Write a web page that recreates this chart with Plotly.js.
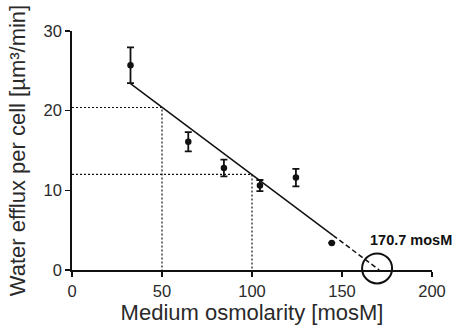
<!DOCTYPE html>
<html>
<head>
<meta charset="utf-8">
<script src="https://cdn.plot.ly/plotly-3.0.1.min.js"></script>
<style>html,body{margin:0;padding:0;background:#fff;}#chart{width:469px;height:328px;}</style>
</head>
<body>
<div id="chart"></div>
<script>
// Measured data
const osmolarity = [32.5, 64.6, 84.4, 104.4, 124.4, 144.3];
const efflux = [25.7, 16.1, 12.8, 10.6, 11.6, 3.4];
const effluxErr = [2.25, 1.2, 1.05, 0.7, 1.1, 0];

// Fitted line
const fitSolidX = [32.5, 145];
const fitSolidY = [23.4, 4.35];
const fitDashX = [145, 170.7];
const fitDashY = [4.35, 0];

// Guide lines
const guide1X = [0, 50, 50];
const guide1Y = [20.4, 20.4, 0];
const guide2X = [0, 100, 100];
const guide2Y = [12.0, 12.0, 0];

const interceptX = [169.5];
const interceptY = [0.2];
const interceptLabel = '170.7 mosM';

const ink = '#111';
const traces = [
  {x: guide1X, y: guide1Y, mode: 'lines', line: {color: ink, width: 1.2, dash: '2px,2px'}, hoverinfo: 'skip'},
  {x: guide2X, y: guide2Y, mode: 'lines', line: {color: ink, width: 1.2, dash: '2px,2px'}, hoverinfo: 'skip'},
  {x: fitSolidX, y: fitSolidY, mode: 'lines', line: {color: ink, width: 1.5}},
  {x: fitDashX, y: fitDashY, mode: 'lines', line: {color: ink, width: 1.5, dash: '5px,3px'}},
  {x: osmolarity, y: efflux, mode: 'markers', marker: {color: ink, size: 6.5},
   error_y: {type: 'data', array: effluxErr, visible: true, color: ink, thickness: 1.8, width: 3.5}},
  {x: interceptX, y: interceptY, mode: 'markers', cliponaxis: false,
   marker: {symbol: 'circle-open', size: 30, color: ink, line: {width: 2, color: ink}}}
];

const layout = {
  width: 469, height: 328,
  margin: {l: 72, r: 37, t: 31, b: 58},
  showlegend: false,
  paper_bgcolor: '#fff', plot_bgcolor: '#fff',
  font: {family: 'Liberation Sans, Arial, sans-serif', color: '#2a2a2a'},
  xaxis: {
    range: [0, 200], tickvals: [0, 50, 100, 150, 200],
    showgrid: false, zeroline: false, showline: true, linecolor: ink, linewidth: 1.8,
    ticks: 'outside', ticklen: 5, tickwidth: 1.5, tickcolor: ink,
    tickfont: {size: 16.5, color: '#2a2a2a'},
    title: {text: 'Medium osmolarity [mosM]', font: {size: 22, color: '#2a2a2a'}, standoff: 4}
  },
  yaxis: {
    range: [0, 30], tickvals: [0, 10, 20, 30],
    showgrid: false, zeroline: false, showline: true, linecolor: ink, linewidth: 1.8,
    ticks: 'outside', ticklen: 5, tickwidth: 1.5, tickcolor: ink,
    tickfont: {size: 16.5, color: '#2a2a2a'},
    title: {text: 'Water efflux per cell [µm³/min]', font: {size: 22, color: '#2a2a2a'}, standoff: 12}
  },
  annotations: [{
    x: 164.5, y: 3.8, xref: 'x', yref: 'y', text: '<b>' + interceptLabel + '</b>',
    showarrow: false, xanchor: 'left', yanchor: 'middle',
    font: {size: 14.5, color: '#111'}
  }]
};

Plotly.newPlot('chart', traces, layout, {staticPlot: true, displayModeBar: false});
</script>
</body>
</html>
